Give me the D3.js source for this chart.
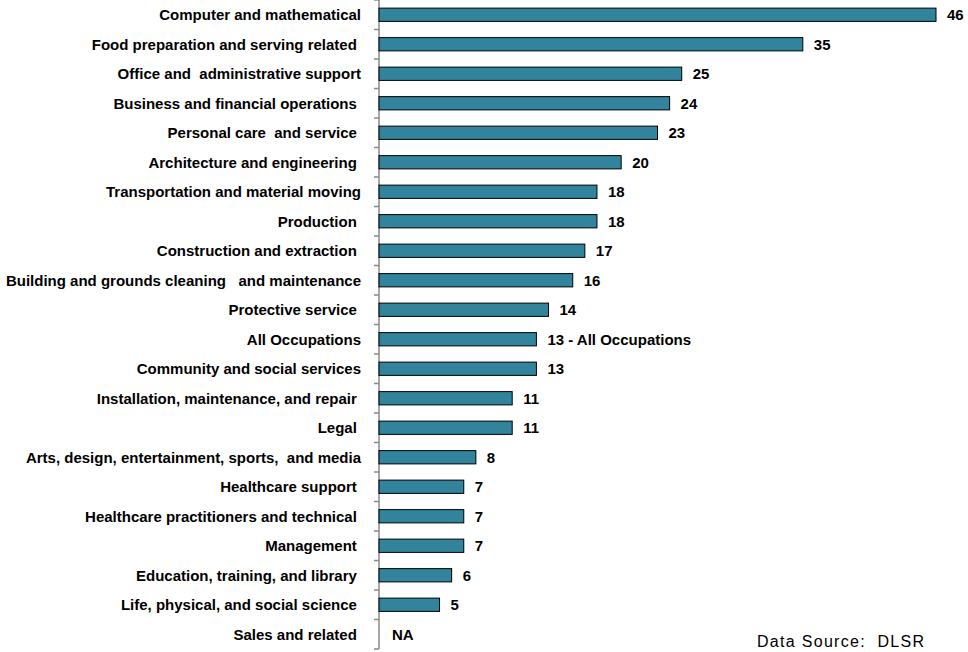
<!DOCTYPE html>
<html><head><meta charset="utf-8">
<script src="https://cdn.jsdelivr.net/npm/d3@7"></script>
<style>body{margin:0;background:#fff}</style>
</head><body>
<svg id="c" width="968" height="652"></svg>
<script>
const categories = ["Computer and mathematical","Food preparation and serving related ","Office and  administrative support","Business and financial operations ","Personal care  and service ","Architecture and engineering ","Transportation and material moving","Production ","Construction and extraction ","Building and grounds cleaning   and maintenance","Protective service ","All Occupations","Community and social services","Installation, maintenance, and repair ","Legal ","Arts, design, entertainment, sports,  and media","Healthcare support ","Healthcare practitioners and technical ","Management ","Education, training, and library ","Life, physical, and social science ","Sales and related "];
const values = [46,35,25,24,23,20,18,18,17,16,14,13,13,11,11,8,7,7,7,6,5,null];
const valueLabels = ["46","35","25","24","23","20","18","18","17","16","14","13 - All Occupations","13","11","11","8","7","7","7","6","5","NA"];

const svg = d3.select("#c");
const x0 = 379;
const x = d3.scaleLinear().domain([0,46]).range([x0, 936]);
const y = d3.scaleBand().domain(categories).range([0,649]).paddingInner(0.55).paddingOuter(0.275);

const step = y.step();
svg.append("line").attr("x1",x0).attr("x2",x0).attr("y1",0).attr("y2",649).attr("stroke","#888").attr("stroke-width",1.5);
d3.range(categories.length+1).forEach(i=>{
  const yy = i*step;
  svg.append("line").attr("x1",x0-5).attr("x2",x0).attr("y1",yy).attr("y2",yy).attr("stroke","#888").attr("stroke-width",1.5);
});

const data = categories.map((c,i)=>({c, v:values[i], l:valueLabels[i]}));
svg.selectAll("rect.bar").data(data.filter(d=>d.v!=null)).join("rect")
  .attr("x",x0).attr("y",d=>y(d.c)).attr("width",d=>x(d.v)-x0).attr("height",y.bandwidth())
  .attr("fill","#31849B").attr("stroke","#000").attr("stroke-width",1);

svg.selectAll("text.cat").data(data).join("text")
  .attr("x",361).attr("y",d=>y(d.c)+y.bandwidth()/2).attr("dy","0.35em")
  .attr("text-anchor","end").style("white-space","pre")
  .attr("font-family","Liberation Sans, Arial, sans-serif").attr("font-weight","bold").attr("font-size",15)
  .text(d=>d.c);

svg.selectAll("text.val").data(data).join("text")
  .attr("x",d=>(d.v==null? x0+13 : x(d.v)+11)).attr("y",d=>y(d.c)+y.bandwidth()/2).attr("dy","0.35em")
  .attr("font-family","Liberation Sans, Arial, sans-serif").attr("font-weight","bold").attr("font-size",15)
  .text(d=>d.l);

svg.append("text").attr("x",757).attr("y",647).style("white-space","pre")
  .attr("font-family","Liberation Sans, Arial, sans-serif").attr("font-size",16).attr("letter-spacing",1.3)
  .text("Data Source:  DLSR");
</script>
</body></html>
